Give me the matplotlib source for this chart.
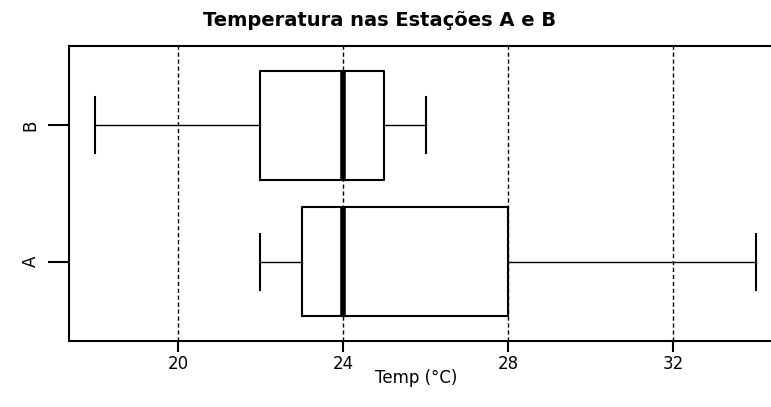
import matplotlib
matplotlib.use('Agg')
import matplotlib.pyplot as plt

estacoes = ['A', 'B']
minimo = [22, 18]
q1 = [23, 22]
mediana = [24, 24]
q3 = [28, 25]
maximo = [34, 26]
xticks = [20, 24, 28, 32]

stats = []
for i, nome in enumerate(estacoes):
    stats.append({'label': nome, 'whislo': minimo[i], 'q1': q1[i], 'med': mediana[i],
                  'q3': q3[i], 'whishi': maximo[i], 'fliers': []})

fig = plt.figure(figsize=(7.71, 4.07), dpi=100)
# right edge of the plot region lies outside the picture (cropped original)
ax = fig.add_axes([69 / 771, 1 - 340.7 / 407, (782 - 69) / 771, (340.7 - 46) / 407])

for x in xticks:
    ax.axvline(x, color='black', linestyle=(0, (3, 2)), linewidth=1, zorder=0)

ax.bxp(stats, positions=[1, 2], vert=False, widths=0.8, showfliers=False,
       boxprops=dict(color='black', linewidth=1.5),
       medianprops=dict(color='black', linewidth=4, solid_capstyle='butt'),
       whiskerprops=dict(color='black', linewidth=1),
       capprops=dict(color='black', linewidth=1.5),
       capwidths=0.41)

ax.set_xlim(17.36, 34.64)
ax.set_ylim(0.42, 2.58)
ax.set_xticks(xticks)
ax.set_yticks([1, 2])
ax.set_yticklabels(estacoes, rotation=90, va='center', fontsize=12)
ax.tick_params(axis='y', length=15, width=1.5, pad=6)
ax.tick_params(axis='x', length=8, width=1.5, labelsize=12, pad=2)
ax.spines['right'].set_visible(False)
for s in ['left', 'top', 'bottom']:
    ax.spines[s].set_linewidth(1.5)

ax.set_xlabel('Temp (°C)', fontsize=12)
ax.xaxis.set_label_coords((416 - 69) / (782 - 69), -0.095)
fig.text(380 / 771, 1 - 20 / 407, 'Temperatura nas Estações A e B', ha='center', va='center',
         fontsize=14, fontweight='bold')

plt.savefig('out.png', dpi=100)
